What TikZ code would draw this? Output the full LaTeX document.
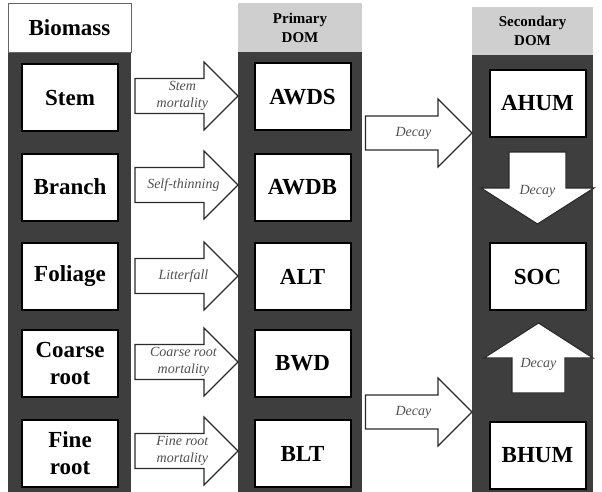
\documentclass[tikz,border=0pt]{standalone}
\usepackage{fontspec}
\setmainfont{LiberationSerif}[Extension=.ttf, UprightFont=*-Regular, BoldFont=*-Bold, ItalicFont=*-Italic, BoldItalicFont=*-BoldItalic]
\usetikzlibrary{calc}
\definecolor{colbg}{HTML}{3E3E3E}
\definecolor{headgray}{HTML}{CFCFCF}
\definecolor{lblgray}{HTML}{505050}
\definecolor{arrline}{HTML}{2A2A2A}
\tikzset{
  column/.style={rectangle, fill=colbg, draw=none, inner sep=0pt, outer sep=0pt},
  headbox/.style={rectangle, inner sep=0pt, outer sep=0pt, align=center, font=\bfseries\fontsize{15}{19}\selectfont},
  pool/.style={rectangle, draw=black, line width=2pt, fill=white, minimum width=96pt, minimum height=67pt,
    inner sep=0pt, outer sep=0pt, align=center, font=\bfseries\fontsize{23}{27}\selectfont},
  albl/.style={align=center, inner sep=0pt, text=lblgray, font=\itshape\fontsize{14}{17.5}\selectfont},
  barrow/.style n args={3}{draw=arrline, line width=1.1pt, fill=white, line join=miter,
    to path={($(\tikztostart)!#1!90:(\tikztotarget)$)
      -- ($(\tikztotarget)!#3!(\tikztostart)!#1!90:(\tikztotarget)$)
      -- ($(\tikztotarget)!#3!(\tikztostart)!#2!90:(\tikztotarget)$)
      -- (\tikztotarget)
      -- ($(\tikztotarget)!#3!(\tikztostart)!#2!-90:(\tikztotarget)$)
      -- ($(\tikztotarget)!#3!(\tikztostart)!#1!-90:(\tikztotarget)$)
      -- ($(\tikztostart)!#1!-90:(\tikztotarget)$) -- cycle}},
}
\begin{document}
\begin{tikzpicture}[x=1pt,y=-1pt]
\useasboundingbox (0,0) rectangle (602,492);
% columns
\node[column, minimum width=123pt, minimum height=440pt] (biocol) at (69.5,272) {};
\node[column, minimum width=124pt, minimum height=440pt] (primcol) at (300,272) {};
\node[column, minimum width=121pt, minimum height=437pt] (seccol) at (532.5,273.5) {};
% headers
\node[headbox, fill=white, draw=black!60, line width=0.8pt, minimum width=123pt, minimum height=49pt,
  font=\bfseries\fontsize{23}{26}\selectfont] (biohead) at (69.5,27.5) {Biomass};
\node[headbox, fill=headgray, minimum width=124pt, minimum height=49pt] (primhead) at (300,27.5) {Primary\\DOM};
\node[headbox, fill=headgray, minimum width=121pt, minimum height=48pt] (sechead) at (532.5,31) {Secondary\\DOM};
% biomass pools
\node[pool] (stem) at (70,98) {Stem};
\node[pool] (branch) at (70,187) {Branch};
\node[pool] (foliage) at (70,276.5) {Foliage};
\node[pool] (coarse) at (70,363.5) {Coarse\\root};
\node[pool] (fine) at (70,453.5) {Fine\\root};
% primary DOM pools
\node[pool] (awds) at (302.5,97) {AWDS};
\node[pool] (awdb) at (302.5,187) {AWDB};
\node[pool] (alt) at (302.5,276.5) {ALT};
\node[pool] (bwd) at (302.5,363.5) {BWD};
\node[pool] (blt) at (302.5,453.5) {BLT};
% secondary DOM pools
\node[pool] (ahum) at (537.5,103.5) {AHUM};
\node[pool] (soc) at (537.5,276.5) {SOC};
\node[pool] (bhum) at (537.5,455.5) {BHUM};
% biomass -> primary arrows
\coordinate (a1s) at ([shift={(17,-2)}]stem.east);
\coordinate (a1e) at (a1s -| primcol.west);
\coordinate (a2s) at ([shift={(17,-2)}]branch.east);
\coordinate (a2e) at (a2s -| primcol.west);
\coordinate (a3s) at ([shift={(17,-0.5)}]foliage.east);
\coordinate (a3e) at (a3s -| primcol.west);
\coordinate (a4s) at ([shift={(17,-1.5)}]coarse.east);
\coordinate (a4e) at (a4s -| primcol.west);
\coordinate (a5s) at ([shift={(17,-2.5)}]fine.east);
\coordinate (a5e) at (a5s -| primcol.west);
\draw[barrow={17.5pt}{34pt}{34pt}] (a1s) to (a1e);
\draw[barrow={17.5pt}{34pt}{34pt}] (a2s) to (a2e);
\draw[barrow={17.5pt}{34pt}{34pt}] (a3s) to (a3e);
\draw[barrow={17.5pt}{34pt}{34pt}] (a4s) to (a4e);
\draw[barrow={17.5pt}{34pt}{34pt}] (a5s) to (a5e);
\node[albl] (l1) at ($(a1s)!0.46!(a1e)$) {Stem\\mortality};
\node[albl] (l2) at ($(a2s)!0.47!(a2e)$) {Self-thinning};
\node[albl] (l3) at ($(a3s)!0.47!(a3e)$) {Litterfall};
\node[albl] (l4) at ($(a4s)!0.47!(a4e)$) {Coarse root\\mortality};
\node[albl] (l5) at ($(a5s)!0.46!(a5e)$) {Fine root\\mortality};
% primary -> secondary decay arrows
\coordinate (d1s) at ([shift={(15,36)}]awds.east);
\coordinate (d1e) at (d1s -| seccol.west);
\coordinate (d2s) at ([shift={(15,-41.5)}]blt.east);
\coordinate (d2e) at (d2s -| seccol.west);
\draw[barrow={17pt}{34pt}{34pt}] (d1s) to (d1e);
\draw[barrow={17pt}{34pt}{34pt}] (d2s) to (d2e);
\node[albl] (l6) at ($(d1s)!0.45!(d1e)$) {Decay};
\node[albl] (l7) at ($(d2s)!0.45!(d2e)$) {Decay};
% within secondary DOM
\coordinate (v1s) at ([yshift=-15pt]ahum.south);
\coordinate (v1e) at ([yshift=19pt]soc.north);
\coordinate (v2s) at ([shift={(1,-29)}]bhum.north);
\coordinate (v2e) at ([shift={(1,13)}]soc.south);
\draw[barrow={28.5pt}{56.5pt}{36pt}] (v1s) to (v1e);
\draw[barrow={26.5pt}{54.5pt}{35pt}] (v2s) to (v2e);
\node[albl] (l8) at ($(v1s)!0.55!(v1e)$) {Decay};
\node[albl] (l9) at ($(v2s)!0.41!(v2e)$) {Decay};
\end{tikzpicture}
\end{document}
